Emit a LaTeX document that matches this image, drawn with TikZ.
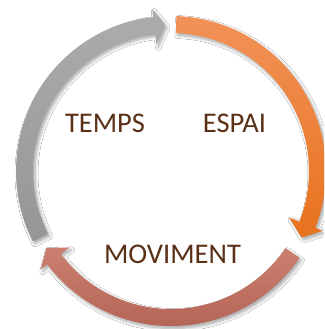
\documentclass[tikz,border=0pt]{standalone}
\usepackage{fontspec}
\setmainfont{Carlito}
\usetikzlibrary{calc,shadows.blur}
\definecolor{orTop}{RGB}{242,146,88}
\definecolor{orBot}{RGB}{232,114,30}
\definecolor{brTop}{RGB}{204,128,112}
\definecolor{brBot}{RGB}{180,100,84}
\definecolor{grTop}{RGB}{172,172,172}
\definecolor{grBot}{RGB}{150,150,150}
\definecolor{txt}{RGB}{90,48,22}
\tikzset{
  arrowshadow/.style={blur shadow={shadow xshift=2pt, shadow yshift=-2.5pt, shadow blur steps=6, shadow opacity=35, shadow blur radius=3pt}},
  label/.style={font=\fontsize{28.5}{32}\selectfont, text=txt, inner sep=0pt, anchor=base}
}
% #1 tail angle, #2 head base angle, #3 tip angle
\newcommand{\cyclearrow}[5]{%
  \path[arrowshadow, top color=#4, bottom color=#5]
    (#1:155) arc[start angle=#1, end angle=#2, radius=155]
    -- (#2:163) -- (#3:146.5) -- (#2:127) -- (#2:138)
    arc[start angle=#2, end angle=#1, radius=138] -- cycle;}
\begin{document}
\begin{tikzpicture}[x=1pt,y=1pt]
\useasboundingbox (0,0) rectangle (324,329);
\clip (0,0) rectangle (324,329);
\fill[white] (0,0) rectangle (324,329);
\begin{scope}[shift={(171,158)}]
  \cyclearrow{88}{-21.5}{-27}{orTop}{orBot}
  \cyclearrow{-34}{-143}{-148.3}{brTop}{brBot}
  \cyclearrow{207}{96.6}{92.3}{grTop}{grBot}
\end{scope}
\node[label] (temps) at (105,196) {TEMPS};
\node[label] (espai) at (234.5,196) {ESPAI};
\node[label] (moviment) at (172.5,65) {MOVIMENT};
\end{tikzpicture}
\end{document}
